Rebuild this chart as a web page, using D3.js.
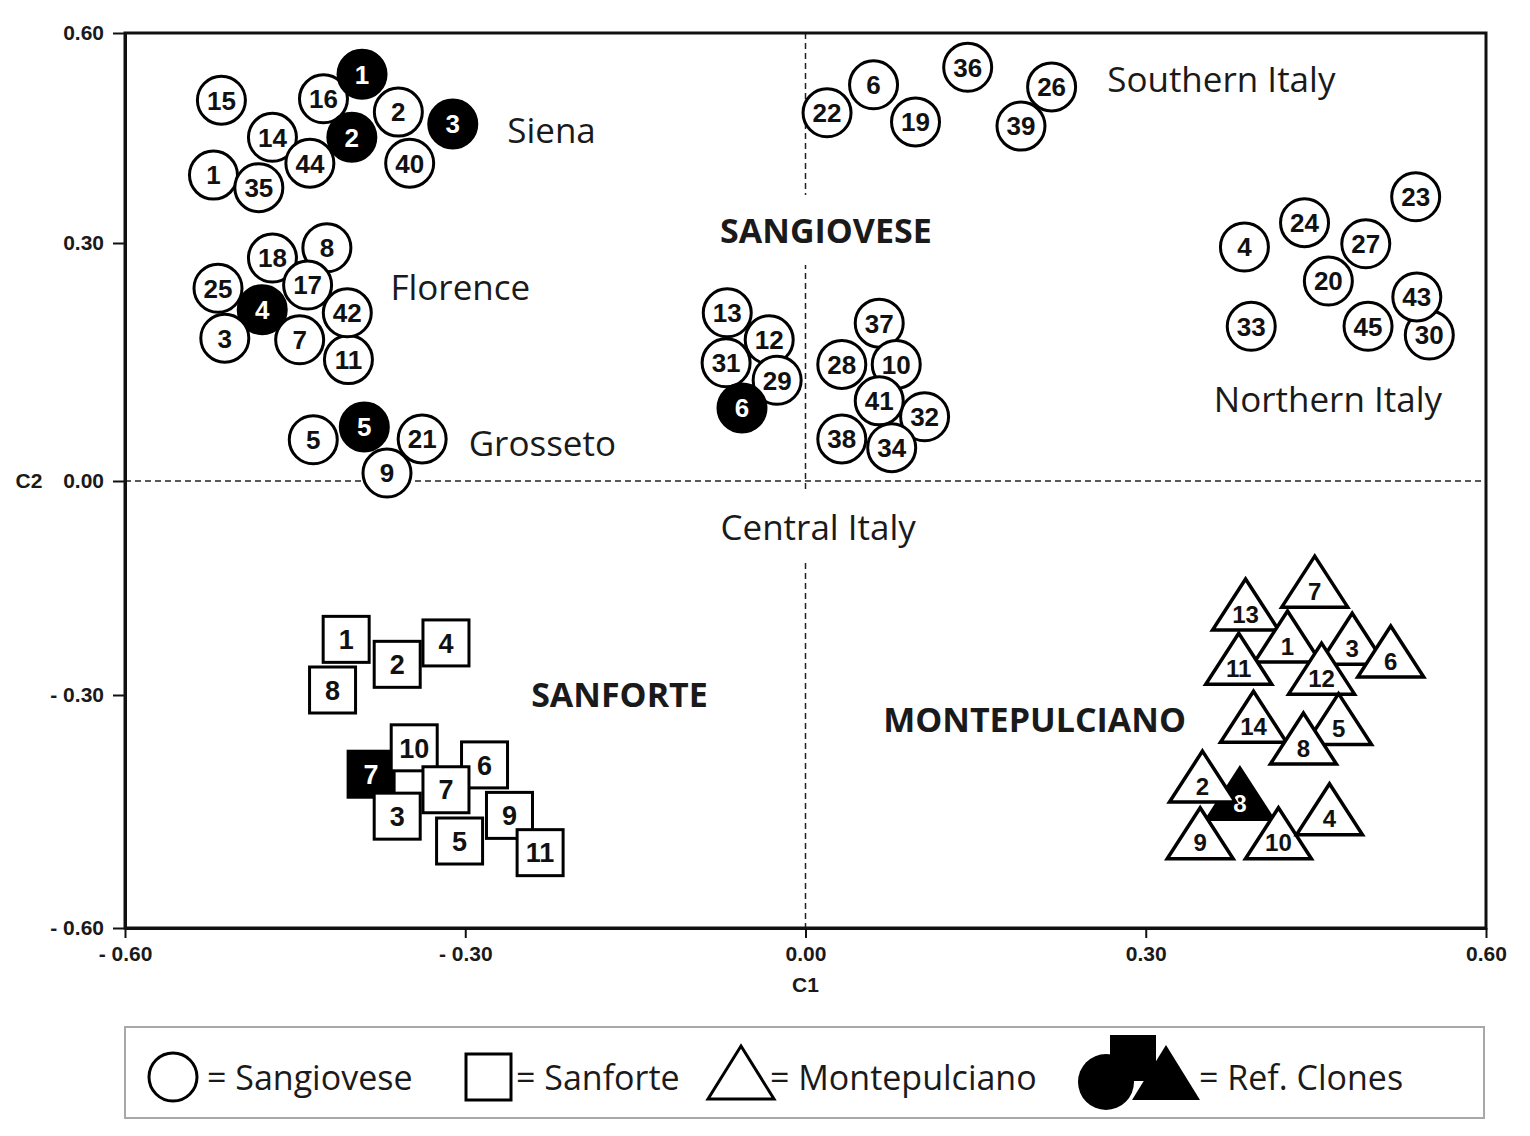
<!DOCTYPE html>
<html lang="en">
<head>
<meta charset="utf-8" />
<script type="text/javascript" src="https://d3js.org/d3.v7.min.js"></script>
<style type="text/css">
  body { margin: 0; background: #fff; }
  text { font-family: "Liberation Sans", Arial, sans-serif; }
  .note { font-family: "Open Sans", sans-serif; fill: #1a1a1a; }
  .axis text { font-weight: bold; font-size: 21px; fill: #1a1a1a; }
</style>
</head>
<body>
<script type="text/javascript">

// clone id, C1, C2, reference clone (1) or not (0)
var sangiovese = [
  ["15", -0.515, 0.504, 0], ["16", -0.425, 0.506, 0], ["1", -0.391, 0.541, 1],
  ["2", -0.400, 0.451, 1], ["2", -0.359, 0.487, 0], ["3", -0.311, 0.470, 1],
  ["14", -0.470, 0.451, 0], ["44", -0.437, 0.414, 0], ["40", -0.349, 0.414, 0],
  ["1", -0.522, 0.397, 0], ["35", -0.482, 0.379, 0],
  ["4", -0.479, 0.216, 1], ["8", -0.422, 0.294, 0], ["18", -0.470, 0.281, 0],
  ["25", -0.518, 0.243, 0], ["17", -0.439, 0.247, 0], ["3", -0.512, 0.180, 0],
  ["7", -0.446, 0.178, 0], ["11", -0.403, 0.153, 0], ["42", -0.404, 0.212, 0],
  ["9", -0.369, 0.010, 0], ["5", -0.434, 0.052, 0], ["5", -0.389, 0.068, 1],
  ["21", -0.338, 0.053, 0],
  ["22", 0.019, 0.486, 0], ["6", 0.060, 0.526, 0], ["19", 0.097, 0.473, 0],
  ["36", 0.143, 0.551, 0], ["26", 0.217, 0.523, 0], ["39", 0.190, 0.467, 0],
  ["12", -0.032, 0.178, 0], ["13", -0.069, 0.212, 0], ["29", -0.025, 0.127, 0],
  ["31", -0.070, 0.149, 0], ["6", -0.056, 0.092, 1],
  ["37", 0.065, 0.199, 0], ["10", 0.080, 0.147, 0], ["28", 0.032, 0.147, 0],
  ["32", 0.105, 0.081, 0], ["41", 0.065, 0.101, 0], ["38", 0.032, 0.053, 0],
  ["34", 0.076, 0.042, 0],
  ["24", 0.440, 0.329, 0], ["23", 0.538, 0.366, 0], ["27", 0.494, 0.299, 0],
  ["20", 0.461, 0.252, 0], ["4", 0.387, 0.295, 0], ["33", 0.393, 0.195, 0],
  ["30", 0.550, 0.184, 0], ["45", 0.496, 0.195, 0], ["43", 0.539, 0.232, 0]
];

var sanforte = [
  ["1", -0.405, -0.222, 0], ["2", -0.360, -0.257, 0], ["4", -0.317, -0.227, 0],
  ["8", -0.417, -0.293, 0], ["7", -0.383, -0.402, 1], ["10", -0.345, -0.368, 0],
  ["3", -0.360, -0.456, 0], ["6", -0.283, -0.390, 0], ["7", -0.317, -0.422, 0],
  ["9", -0.261, -0.455, 0], ["5", -0.305, -0.488, 0], ["11", -0.234, -0.503, 0]
];

var montepulciano = [
  ["7", 0.449, -0.153, 0], ["13", 0.388, -0.185, 0], ["1", 0.425, -0.230, 0],
  ["11", 0.382, -0.261, 0], ["3", 0.482, -0.233, 0], ["6", 0.516, -0.251, 0],
  ["12", 0.455, -0.275, 0], ["14", 0.395, -0.339, 0], ["5", 0.470, -0.342, 0],
  ["8", 0.439, -0.367, 0], ["8", 0.383, -0.438, 1], ["2", 0.350, -0.416, 0],
  ["9", 0.348, -0.489, 0], ["10", 0.417, -0.489, 0], ["4", 0.462, -0.458, 0]
];

// region notes (left edge) and cultivar titles (centred)
var regions = [
  ["Siena", -0.263, 0.460], ["Florence", -0.366, 0.243], ["Grosseto", -0.297, 0.047],
  ["Southern Italy", 0.266, 0.533], ["Northern Italy", 0.360, 0.102],
  ["Central Italy", -0.075, -0.066]
];
var cultivars = [
  ["SANGIOVESE", 0.018, 0.317], ["SANFORTE", -0.164, -0.300],
  ["MONTEPULCIANO", 0.202, -0.332]
];

var xTicks = [-0.6, -0.3, 0, 0.3, 0.6];
var yTicks = [-0.6, -0.3, 0, 0.3, 0.6];
var legendItems = ["= Sangiovese", "= Sanforte", "= Montepulciano", "= Ref. Clones"];

var w = 1530, h = 1136;
var svg = d3.select("body").append("svg")
  .attr("width", w)
  .attr("height", h);

var x = d3.scaleLinear().domain([-0.6, 0.6]).range([125, 1486]);
// the printed axis is slightly uneven, so map each tick
var y = d3.scaleLinear().domain(yTicks).range([928, 695, 481, 243, 33]);

var fmt = function(d) {
  var s = d3.format(".2f")(Math.abs(d));
  return d < 0 ? "- " + s : s;
};

//dashed zero lines
svg.append("line")
  .attr("x1", x(0)).attr("x2", x(0))
  .attr("y1", y(0.6)).attr("y2", y(-0.6))
  .attr("stroke", "#222").attr("stroke-width", 1.5).attr("stroke-dasharray", "6,4");
svg.append("line")
  .attr("x1", x(-0.6)).attr("x2", x(0.6))
  .attr("y1", y(0)).attr("y2", y(0))
  .attr("stroke", "#222").attr("stroke-width", 1.5).attr("stroke-dasharray", "6,4");

//axes
svg.append("g").attr("class", "axis")
  .attr("transform", "translate(0," + y(-0.6) + ")")
  .call(d3.axisBottom(x).tickValues(xTicks).tickSize(10).tickSizeOuter(0)
    .tickPadding(8).tickFormat(fmt));
svg.append("g").attr("class", "axis")
  .attr("transform", "translate(" + x(-0.6) + ",0)")
  .call(d3.axisLeft(y).tickValues(yTicks).tickSize(12).tickSizeOuter(0)
    .tickPadding(9).tickFormat(fmt));
svg.selectAll(".axis .tick line").attr("stroke", "#111").attr("stroke-width", 2);
svg.selectAll(".axis .domain").attr("stroke", "#111").attr("stroke-width", 3);

svg.append("rect")
  .attr("x", x(-0.6)).attr("y", y(0.6))
  .attr("width", x(0.6) - x(-0.6)).attr("height", y(-0.6) - y(0.6))
  .attr("fill", "none").attr("stroke", "#111").attr("stroke-width", 3);

svg.append("text").attr("x", 29).attr("y", y(0)).attr("dy", "0.35em")
  .attr("text-anchor", "middle").style("font-weight", "bold").style("font-size", "21px")
  .attr("fill", "#1a1a1a").text("C2");
svg.append("text").attr("x", x(0)).attr("y", 985).attr("dy", "0.35em")
  .attr("text-anchor", "middle").style("font-weight", "bold").style("font-size", "21px")
  .attr("fill", "#1a1a1a").text("C1");

//labels with a white backing so the dashed lines break round them
function note(d, anchor, size, weight) {
  var g = svg.append("g");
  var bg = g.append("rect").attr("fill", "#fff");
  var t = g.append("text").attr("class", "note")
    .attr("x", x(d[1])).attr("y", y(d[2])).attr("dy", "0.35em")
    .attr("text-anchor", anchor)
    .style("font-size", size + "px").style("font-weight", weight)
    .text(d[0]);
  var b = t.node().getBBox();
  bg.attr("x", b.x - 4).attr("y", b.y - 12).attr("width", b.width + 8).attr("height", b.height + 24);
}
regions.forEach(function(d) { note(d, "start", 35, "normal"); });
cultivars.forEach(function(d) { note(d, "middle", 34, "bold"); });

//markers
var triPath = "M0,-34L33,17L-33,17Z";
function drawMarkers(rows, shape, fontSize, dy) {
  var m = svg.append("g").selectAll("g")
    .data(rows)
    .enter()
    .append("g")
    .attr("transform", function(d) { return "translate(" + x(d[1]) + "," + y(d[2]) + ")"; });
  var mk;
  if (shape == "circle") {
    mk = m.append("circle").attr("r", 24);
  } else if (shape == "square") {
    mk = m.append("rect").attr("x", -23).attr("y", -23).attr("width", 46).attr("height", 46);
  } else {
    mk = m.append("path").attr("d", triPath).attr("stroke-linejoin", "miter");
  }
  mk.attr("fill", function(d) { return d[3] ? "#000" : "#fff"; })
    .attr("stroke", "#000").attr("stroke-width", shape == "triangle" ? 3.5 : 3);
  m.append("text")
    .attr("text-anchor", "middle")
    .attr("dy", dy)
    .style("font-size", fontSize + "px").style("font-weight", "bold")
    .attr("fill", function(d) { return d[3] ? "#fff" : "#111"; })
    .text(function(d) { return d[0]; });
}
drawMarkers(sangiovese, "circle", 26, "0.36em");
drawMarkers(sanforte, "square", 27, "0.36em");
drawMarkers(montepulciano, "triangle", 24, "0.4em");

//legend
var lg = svg.append("g");
lg.append("rect").attr("x", 125).attr("y", 1027).attr("width", 1359).attr("height", 91)
  .attr("fill", "#fff").attr("stroke", "#a8a8a8").attr("stroke-width", 2);
lg.append("circle").attr("cx", 173).attr("cy", 1077).attr("r", 24)
  .attr("fill", "#fff").attr("stroke", "#000").attr("stroke-width", 3);
lg.append("rect").attr("x", 466).attr("y", 1054).attr("width", 45).attr("height", 46)
  .attr("fill", "#fff").attr("stroke", "#000").attr("stroke-width", 3);
lg.append("path").attr("d", "M741,1046L774,1099L708,1099Z")
  .attr("fill", "#fff").attr("stroke", "#000").attr("stroke-width", 3);
lg.append("rect").attr("x", 1110).attr("y", 1035).attr("width", 46).attr("height", 46).attr("fill", "#000");
lg.append("circle").attr("cx", 1106).attr("cy", 1082).attr("r", 28).attr("fill", "#000");
lg.append("path").attr("d", "M1166,1045L1200,1100L1132,1100Z").attr("fill", "#000");
var lx = [207, 516, 770, 1199];
lg.selectAll("text.lt")
  .data(legendItems)
  .enter()
  .append("text")
  .attr("class", "note lt")
  .attr("x", function(d, i) { return lx[i]; })
  .attr("y", 1078)
  .attr("dy", "0.35em")
  .style("font-size", "34px")
  .text(function(d) { return d; });

</script>
</body>
</html>
